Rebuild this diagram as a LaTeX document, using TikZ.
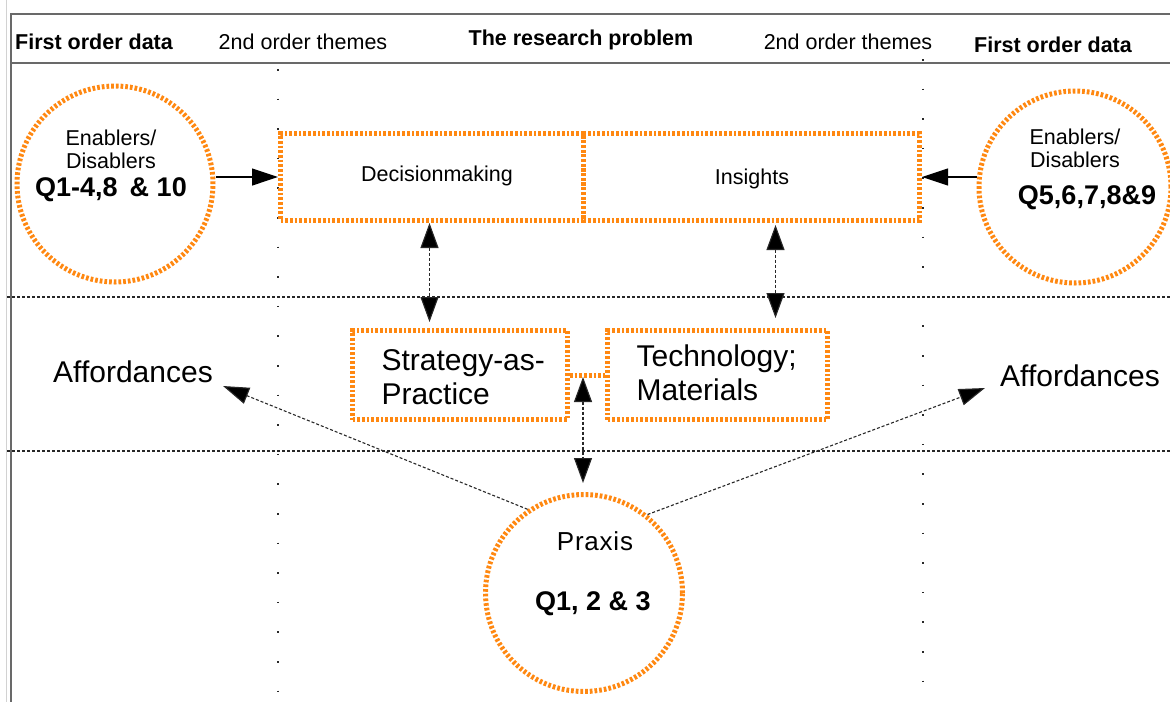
\documentclass[tikz,border=0pt]{standalone}
\usepackage{fontspec}
\setmainfont{Liberation Sans}
\usetikzlibrary{arrows.meta}
\definecolor{frameGray}{RGB}{105,105,105}
\definecolor{dotOrange}{RGB}{255,136,17}
\definecolor{lineDark}{RGB}{40,40,40}

\begin{document}
\begin{tikzpicture}[x=1pt,y=-1pt,
  orangedots/.style={draw=dotOrange, line width=5pt, dash pattern=on 2.7pt off 2pt},
  themebox/.style={orangedots, rectangle, inner sep=0pt, anchor=north west},
  datacircle/.style={orangedots, circle, inner sep=0pt},
  headtxt/.style={font=\fontsize{21.5}{24}\selectfont},
  headbold/.style={font=\fontsize{21.5}{24}\selectfont\bfseries},
  smalltxt/.style={font=\fontsize{21.5}{24}\selectfont},
  bigtxt/.style={font=\fontsize{30}{34}\selectfont, align=left},
  qtxt/.style={font=\fontsize{27}{30}\selectfont\bfseries},
  bigtip/.style={-{Triangle[length=26pt,width=17pt,fill=black]}},
  solidarrow/.style={bigtip, draw=black, line width=1.2pt},
  dasharrow/.style={{Triangle[length=25pt,width=18pt,fill=black]}-{Triangle[length=25pt,width=18pt,fill=black]}, draw=lineDark, line width=1.1pt, dash pattern=on 3pt off 2pt},
  affarrow/.style={bigtip, draw=lineDark, line width=1.1pt, dash pattern=on 3pt off 2pt},
  rowsep/.style={draw=lineDark, line width=1.3pt, dash pattern=on 3pt off 2pt},
  colsep/.style={draw=lineDark, line width=1.6pt, dash pattern=on 1.6pt off 28pt},
  framerule/.style={draw=frameGray, line width=2.6pt}
]
\useasboundingbox (0,0) rectangle (1170,702);
\fill[white] (0,0) rectangle (1170,702);

% table frame
\draw[gray!35, line width=0.8pt] (6.5,0) -- (6.5,702);
\draw[framerule] (11,14) -- (1170,14);
\draw[framerule] (11,63) -- (1170,63);
\draw[framerule] (11,13) -- (11,702);

% row and column separators
\draw[rowsep] (7,297) -- (1170,297);
\draw[rowsep] (7,451) -- (1170,451);
\draw[colsep] (278,69) -- (278,700);
\draw[colsep] (923,59) -- (923,700);

% column headings
\node[headbold] (h1) at (94,42) {First order data};
\node[headtxt]  (h2) at (303,42) {2nd order themes};
\node[headbold] (h3) at (581,40) {The research problem};
\node[headtxt]  (h4) at (848,42) {2nd order themes};
\node[headbold] (h5) at (1053,45) {First order data};

% research problem boxes
\node[themebox, minimum width=303pt, minimum height=87pt] (dm) at (278,131) {};
\node[themebox, minimum width=336pt, minimum height=87pt] (ins) at (581,131) {};
\node[smalltxt] (dmt) at (437,176) {Decisionmaking};
\node[smalltxt] (inst) at (752,179) {Insights};

% second order theme boxes
\node[themebox, minimum width=215pt, minimum height=89pt] (sap) at (350,328) {};
\node[themebox, minimum width=220pt, minimum height=89pt] (tech) at (605,328) {};
\node[bigtxt, anchor=west] (sapt) at (378,377) {Strategy-as-\\Practice};
\node[bigtxt, anchor=west] (techt) at (633,373) {Technology;\\Materials};
\draw[orangedots] (sap.east) -- (tech.west);

% first order data circles
\node[datacircle, minimum size=196pt] (lc) at (115,184) {};
\node[smalltxt] (lc1) at (111,138) {Enablers/};
\node[smalltxt] (lc2) at (111,161) {Disablers};
\node[qtxt] (lc3) at (111,190) {Q1-4,8 \,\& 10};

\node[datacircle, minimum size=192pt] (rc) at (1075,187) {};
\node[smalltxt] (rc1) at (1075,137) {Enablers/};
\node[smalltxt] (rc2) at (1075,160) {Disablers};
\node[qtxt] (rc3) at (1087,198) {Q5,6,7,8\&9};

\node[datacircle, minimum size=197pt] (px) at (584,593) {};
\node[font=\fontsize{26}{28}\selectfont\addfontfeature{LetterSpace=3}] (pxt) at (595,541) {Praxis};
\node[qtxt] (pxq) at (593,604) {Q1, 2 \& 3};

% affordances
\node[bigtxt] (affl) at (133,372) {Affordances};
\node[bigtxt] (affr) at (1080,376) {Affordances};
\coordinate (al) at (223,386);
\coordinate (ar) at (985,388);
\coordinate (link) at (583,377);

% connectors
\draw[solidarrow] (lc.east |- dm.west) -- (dm.west);
\draw[solidarrow] (rc.west |- ins.east) -- (ins.east);
\draw[dasharrow, shorten >=6pt] ([xshift=-2.5pt]dm.south) -- ([xshift=-2.5pt]dm.south |- sap.north);
\draw[dasharrow, shorten <=2pt, shorten >=10pt] ([xshift=24pt]ins.south) -- ([xshift=24pt]ins.south |- tech.north);
\draw[dasharrow, shorten >=9pt] (link) -- (link |- px.north);
\draw[affarrow] (px.124) -- (al);
\draw[affarrow] (px.51) -- (ar);
\end{tikzpicture}
\end{document}
